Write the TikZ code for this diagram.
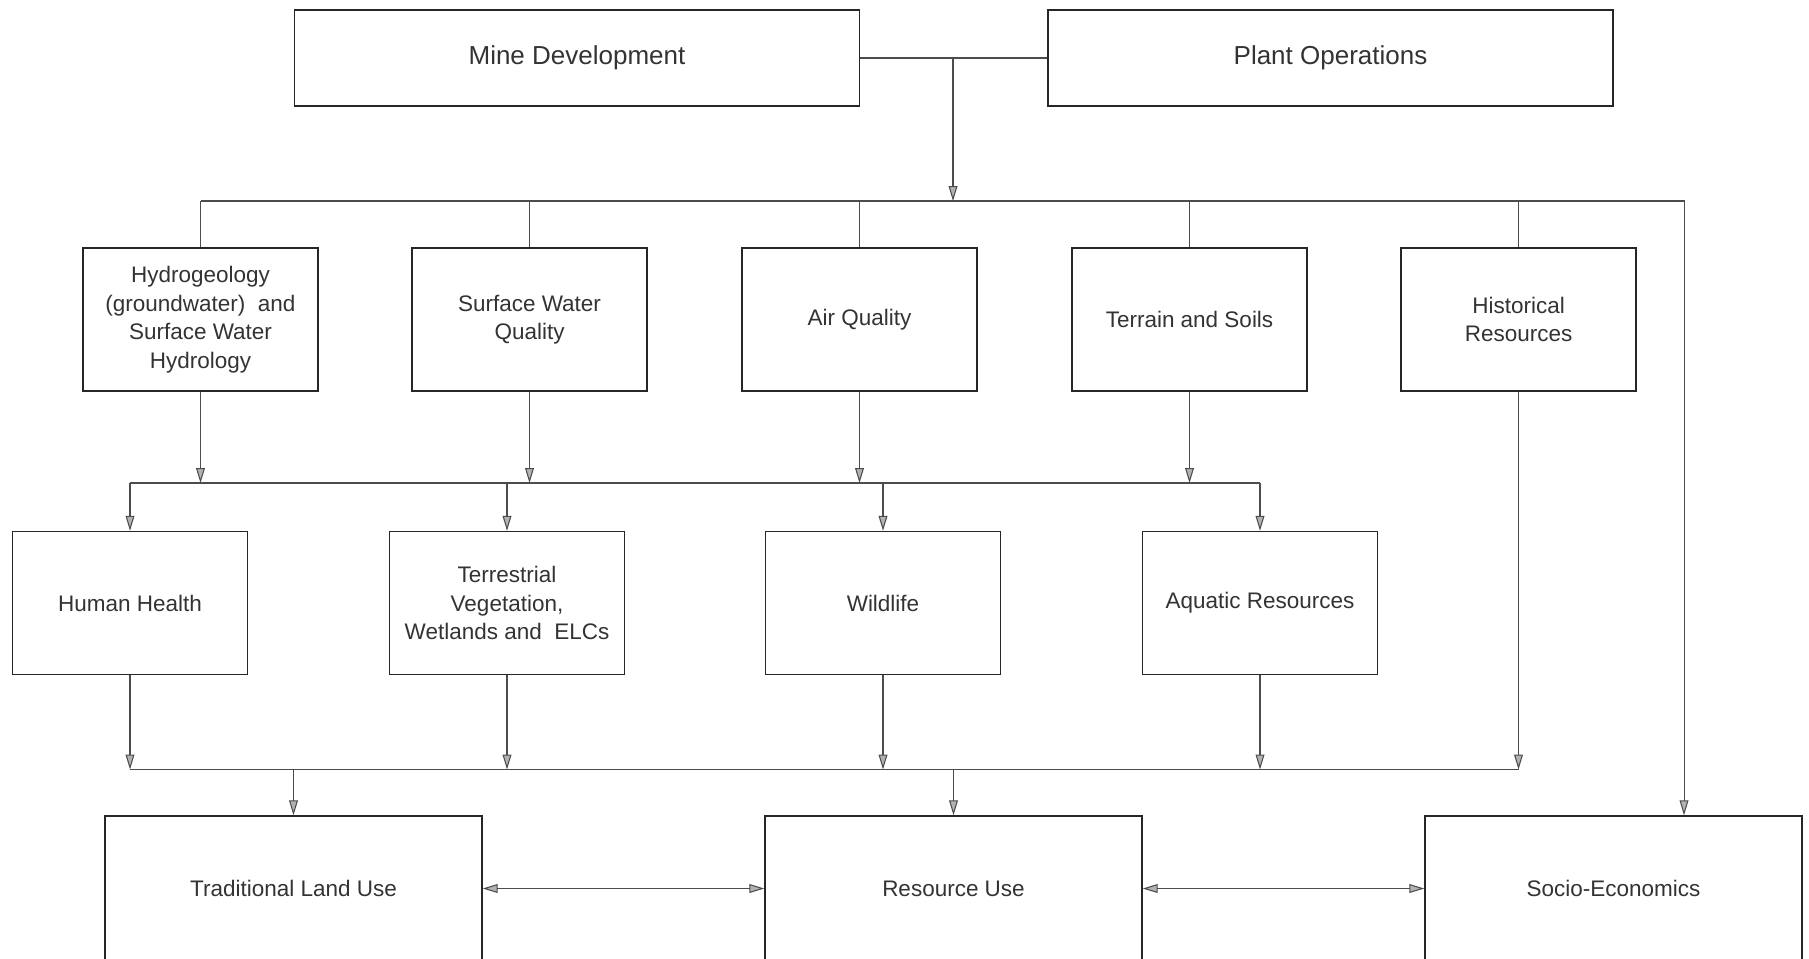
\documentclass[tikz,border=0pt]{standalone}
\usepackage{fontspec}
\setmainfont{Liberation Sans}
\usetikzlibrary{arrows.meta}

\begin{document}
\begin{tikzpicture}[align=center,line join=miter,
  bx/.style={draw=black!85,line width=0.8pt,minimum width=4.7cm,minimum height=2.86cm,text=black!80,font=\fontsize{12.8}{16.2}\selectfont},
  tp/.style={bx,minimum width=11.3cm,minimum height=1.92cm,font=\fontsize{14.8}{17}\selectfont},
  btm/.style={bx,minimum width=7.54cm,minimum height=2.9cm},
  ln/.style={draw=black!70,line width=0.6pt},
  tip/.style={Triangle[length=8.5pt,width=5pt,fill=gray!60]},
  arr/.style={ln,-{Triangle[length=8.5pt,width=5pt,fill=gray!60]}},
  arrb/.style={ln,{Triangle[length=8.5pt,width=5pt,fill=gray!60]}-{Triangle[length=8.5pt,width=5pt,fill=gray!60]}}]
  \useasboundingbox (0,0) rectangle (36.18,-19.16);
  % sources
  \node[tp] (mine) at (11.54,-1.16){Mine Development};
  \node[tp] (plant) at (26.61,-1.16){Plant Operations};
  % first tier
  \node[bx] (hydro) at (4.01,-6.39){Hydrogeology\\(groundwater)~ and\\Surface Water\\Hydrology};
  \node[bx] (swq) at (10.59,-6.39){Surface Water\\Quality};
  \node[bx] (air) at (17.19,-6.39){Air Quality};
  \node[bx] (terrain) at (23.79,-6.39){Terrain and Soils};
  \node[bx] (hist) at (30.37,-6.39){Historical\\Resources};
  % second tier
  \node[bx] (hh) at (2.60,-12.06){Human Health};
  \node[bx] (terr) at (10.14,-12.06){Terrestrial\\Vegetation,\\Wetlands and~ ELCs};
  \node[bx] (wild) at (17.66,-12.06){Wildlife};
  \node[bx] (aqua) at (25.20,-12.06){Aquatic Resources};
  % receptors
  \node[btm] (trad) at (5.87,-17.77){Traditional Land Use};
  \node[btm] (res) at (19.07,-17.77){Resource Use};
  \node[btm] (socio) at (32.27,-17.77){Socio-Economics};
  % buses
  \coordinate (b1) at (19.06,-4.02);
  \coordinate (b1r) at (33.68,-4.02);
  \coordinate (b2) at (0,-9.66);
  \coordinate (b3) at (0,-15.39);
  \draw[ln] (mine.east) -- (plant.west);
  \draw[arr] (mine.east -| b1) -- (b1);
  \draw[arr] (hydro.north |- b1) -- (b1r) -- (b1r |- socio.north);
  \foreach \n in {hydro,swq,air,terrain,hist}
    \draw[ln] (\n.north) -- (\n.north |- b1);
  \draw[ln] (hh.north |- b2) -- (aqua.north |- b2);
  \foreach \n in {hydro,swq,air,terrain}
    \draw[arr] (\n.south) -- (\n.south |- b2);
  \foreach \n in {hh,terr,wild,aqua}
    \draw[arr] (\n.north |- b2) -- (\n.north);
  \draw[ln] (hh.south |- b3) -- (hist.south |- b3);
  \foreach \n in {hh,terr,wild,aqua,hist}
    \draw[arr] (\n.south) -- (\n.south |- b3);
  \draw[arr] (trad.north |- b3) -- (trad.north);
  \draw[arr] (res.north |- b3) -- (res.north);
  \draw[arrb] (trad) -- (res);
  \draw[arrb] (res) -- (socio);
\end{tikzpicture}
\end{document}
